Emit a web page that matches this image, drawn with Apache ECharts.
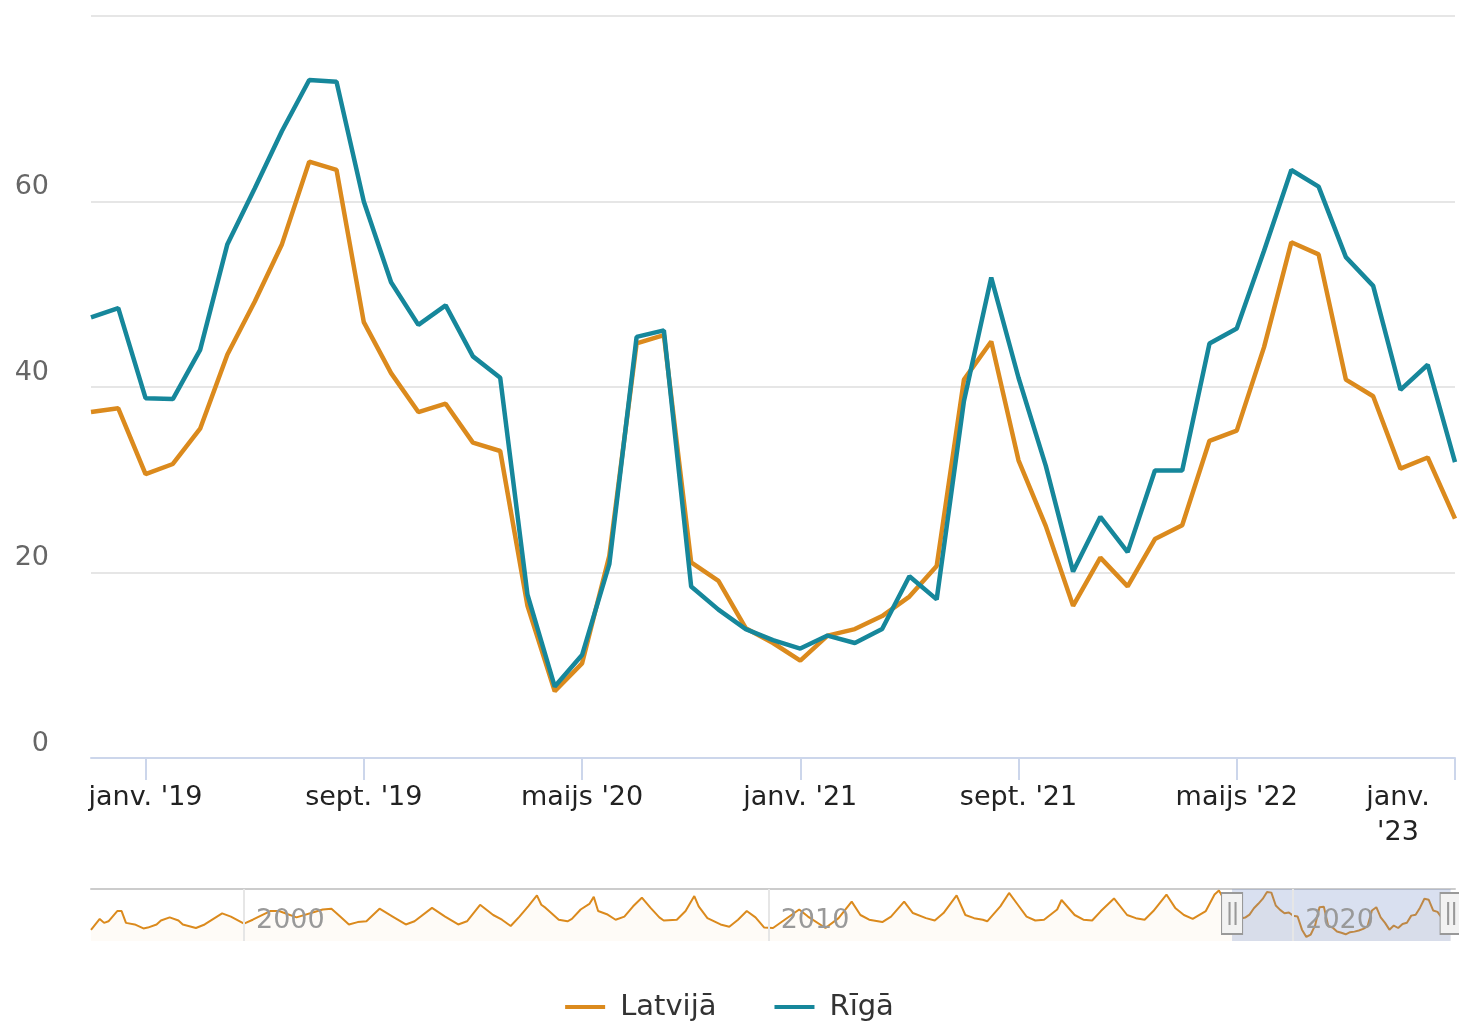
<!DOCTYPE html>
<html>
<head>
<meta charset="utf-8">
<script src="https://cdn.jsdelivr.net/npm/echarts@6/dist/echarts.min.js"></script>
<style>
html,body{margin:0;padding:0;background:#fff;}
#chart{width:1459px;height:1023px;}
</style>
</head>
<body>
<div id="chart"></div>
<script>
// ---------- DATA ----------
const months = [
  '2018-11','2018-12',
  '2019-01','2019-02','2019-03','2019-04','2019-05','2019-06','2019-07','2019-08','2019-09','2019-10','2019-11','2019-12',
  '2020-01','2020-02','2020-03','2020-04','2020-05','2020-06','2020-07','2020-08','2020-09','2020-10','2020-11','2020-12',
  '2021-01','2021-02','2021-03','2021-04','2021-05','2021-06','2021-07','2021-08','2021-09','2021-10','2021-11','2021-12',
  '2022-01','2022-02','2022-03','2022-04','2022-05','2022-06','2022-07','2022-08','2022-09','2022-10','2022-11','2022-12',
  '2023-01'
];
const lvMonthNames = ['janv.','febr.','marts','apr.','maijs','jūn.','jūl.','aug.','sept.','okt.','nov.','dec.'];
const seriesNames = ['Latvijā', 'Rīgā'];

const latvija = [
  37.3, 37.7,
  30.6, 31.7, 35.5, 43.5, 49.2, 55.4, 64.3, 63.4, 47.0, 41.5, 37.3, 38.2,
  34.0, 33.1, 16.4, 7.2, 10.2, 21.8, 44.7, 45.6, 21.1, 19.1, 14.0, 12.4,
  10.5, 13.2, 13.9, 15.3, 17.4, 20.7, 40.8, 44.9, 32.1, 25.0, 16.4, 21.6,
  18.5, 23.6, 25.1, 34.2, 35.3, 44.3, 55.6, 54.3, 40.8, 39.0, 31.2, 32.4,
  25.8
];
const riga = [
  47.5, 48.5,
  38.8, 38.7, 44.0, 55.4, 61.4, 67.6, 73.1, 72.9, 60.0, 51.3, 46.7, 48.8,
  43.3, 41.0, 17.6, 7.7, 11.1, 20.9, 45.4, 46.1, 18.5, 16.0, 13.9, 12.7,
  11.8, 13.2, 12.4, 13.9, 19.6, 17.1, 38.5, 51.8, 41.0, 31.5, 20.1, 26.0,
  22.2, 31.0, 31.0, 44.7, 46.3, 54.7, 63.4, 61.6, 54.0, 50.9, 39.7, 42.4,
  31.9
];
// Navigator (Latvijā, earlier history read from the sparkline)
const navHistory = [
  ['1997-02',16],['1997-04',30],['1997-05',25],['1997-06',27],['1997-08',40],['1997-09',40],['1997-10',25],['1997-12',23],
  ['1998-02',18],['1998-03',19],['1998-05',23],['1998-06',28],['1998-08',32],['1998-10',28],['1998-11',23],
  ['1999-02',18.5],['1999-04',23],['1999-06',30],['1999-08',37],['1999-10',33],
  ['2000-01',24],['2000-03',29],['2000-07',40],['2000-09',40],
  ['2001-01',32],['2001-07',42],['2001-09',43],['2001-11',33],
  ['2002-01',23],['2002-03',26],['2002-05',27],['2002-08',43],['2002-11',33],
  ['2003-02',23],['2003-04',27],['2003-08',44],['2003-11',33],
  ['2004-02',23],['2004-04',27],['2004-07',48],['2004-10',35],['2004-12',29],
  ['2005-02',21],['2005-04',33],['2005-06',46],['2005-08',60],['2005-09',48],['2005-10',44],
  ['2006-01',29],['2006-03',27],['2006-04',30],['2006-06',42],['2006-08',49],['2006-09',58],['2006-10',40],['2006-12',36],
  ['2007-02',29],['2007-04',33],['2007-06',46],['2007-08',57],['2007-10',44],['2007-12',32],
  ['2008-01',28],['2008-04',29],['2008-06',40],['2008-08',59],['2008-09',46],['2008-11',31],
  ['2009-02',23],['2009-04',20],['2009-06',29],['2009-08',40],['2009-10',32],['2009-12',19],
  ['2010-02',18.5],['2010-08',42],['2010-10',33],
  ['2011-02',18.5],['2011-05',31],['2011-08',52],['2011-10',35],['2011-12',29],
  ['2012-03',26],['2012-05',33],['2012-08',52],['2012-10',37.5],
  ['2013-01',31],['2013-03',28],['2013-05',37.5],['2013-08',60],['2013-10',35],['2013-12',31],
  ['2014-02',29],['2014-03',27],['2014-06',46],['2014-08',63],['2014-10',48],['2014-12',33],
  ['2015-02',28],['2015-04',29],['2015-07',42],['2015-08',54],['2015-11',35],
  ['2016-01',29],['2016-03',28],['2016-05',40],['2016-08',56],['2016-11',35],
  ['2017-01',31],['2017-03',29],['2017-05',40],['2017-08',61],['2017-10',44],['2017-12',35],
  ['2018-02',30],['2018-05',40],['2018-07',61],['2018-08',66]
];
const navYearTicks = [2000, 2010, 2020];

// ---------- STYLE ----------
const FONT = 'DejaVu Sans';
const ORANGE = '#DB8A1D';
const TEAL = '#16879B';
const Y_MAX = 80;
const NAV_Y_MIN = 2, NAV_Y_MAX = 68, HANDLE_Y = 37;

const decYear = s => { const p = s.split('-').map(Number); return p[0] + (p[1] - 1) / 12; };
const navData = navHistory.map(d => [decYear(d[0]), d[1]])
  .concat(months.map((m, i) => [decYear(m), latvija[i]]));
const navMin = decYear(navHistory[0][0]);
const navMax = decYear(months[months.length - 1]) + 1 / 12;
const selStart = decYear(months[0]);
const selEnd = decYear(months[months.length - 1]);

const tickFn = (i) => (i - 2) % 8 === 0;
const fmtMonth = (value, index) => {
  const p = value.split('-');
  const name = lvMonthNames[Number(p[1]) - 1];
  const yy = "'" + p[0].slice(2);
  if (index === months.length - 1) return '{e|' + name + '}\n{e|' + yy + '}';
  return name + ' ' + yy;
};

const chart = echarts.init(document.getElementById('chart'), null, {renderer: 'canvas'});
chart.setOption({
  animation: false,
  backgroundColor: '#ffffff',
  textStyle: {fontFamily: FONT},
  grid: [
    {left: 91, right: 4, top: 16, bottom: 265, outerBoundsMode: 'none', containLabel: false},
    {left: 91, right: 4, top: 889, height: 52, outerBoundsMode: 'none', containLabel: false}
  ],
  legend: {
    data: seriesNames,
    top: 987, left: 'center',
    icon: 'rect', itemWidth: 40, itemHeight: 4, itemGap: 58,
    textStyle: {fontSize: 29, color: '#333', fontFamily: FONT, lineHeight: 30, padding: [0, 0, 0, 10]}
  },
  xAxis: [
    {
      gridIndex: 0, type: 'category', data: months, boundaryGap: false,
      axisLine: {lineStyle: {color: '#ccd6eb', width: 2}},
      axisTick: {interval: tickFn, length: 22, lineStyle: {color: '#ccd6eb', width: 2}},
      axisLabel: {
        interval: tickFn, formatter: fmtMonth, color: '#222', fontSize: 27, fontFamily: FONT,
        lineHeight: 35, margin: 22, hideOverlap: false,
        rich: {e: {color: '#222', fontSize: 27, fontFamily: FONT, lineHeight: 35, padding: [0, 114, 0, 0]}}
      },
      splitLine: {show: false}
    },
    {
      gridIndex: 1, type: 'value', min: navMin, max: navMax, z: 10,
      axisLine: {show: false, onZero: false}, axisTick: {show: false}, splitLine: {show: false},
      axisLabel: {
        inside: true, customValues: navYearTicks, align: 'left', verticalAlign: 'middle',
        margin: 20, padding: [0, 0, 0, 12], color: '#999', fontSize: 27, fontFamily: FONT,
        formatter: v => String(v)
      }
    },
    {
      gridIndex: 1, type: 'value', position: 'top', min: navMin, max: navMax,
      axisLine: {show: true, onZero: false, lineStyle: {color: '#cccccc', width: 2}},
      axisTick: {show: false}, axisLabel: {show: false}, splitLine: {show: false}
    }
  ],
  yAxis: [
    {
      gridIndex: 0, type: 'value', min: 0, max: Y_MAX, interval: 20,
      axisLine: {show: false}, axisTick: {show: false},
      splitLine: {lineStyle: {color: '#e6e6e6', width: 2}},
      axisLabel: {
        color: '#666', fontSize: 27, fontFamily: FONT, margin: 42,
        verticalAlign: 'bottom', lineHeight: 23, padding: [0, 0, 3, 0],
        formatter: v => (v >= Y_MAX ? '' : String(v))
      }
    },
    {gridIndex: 1, type: 'value', min: NAV_Y_MIN, max: NAV_Y_MAX, show: false}
  ],
  series: [
    {
      name: seriesNames[0], type: 'line', xAxisIndex: 0, yAxisIndex: 0, data: latvija,
      symbol: 'none', lineStyle: {color: ORANGE, width: 4.5}, itemStyle: {color: ORANGE}, z: 2
    },
    {
      name: seriesNames[1], type: 'line', xAxisIndex: 0, yAxisIndex: 0, data: riga,
      symbol: 'none', lineStyle: {color: TEAL, width: 4.5}, itemStyle: {color: TEAL}, z: 3
    },
    {
      name: 'navigator', type: 'line', xAxisIndex: 1, yAxisIndex: 1, data: navData,
      symbol: 'none', silent: true,
      lineStyle: {color: ORANGE, width: 2}, itemStyle: {color: ORANGE},
      areaStyle: {color: 'rgba(219,138,29,0.05)'},
      markLine: {
        silent: true, symbol: 'none', label: {show: false},
        lineStyle: {color: '#e6e6e6', width: 2, type: 'solid'},
        data: navYearTicks.map(y => ({xAxis: y}))
      },
      z: 2
    },
    {
      name: 'selection', type: 'line', xAxisIndex: 1, yAxisIndex: 1,
      data: [[selStart, NAV_Y_MAX], [selEnd, NAV_Y_MAX]],
      symbol: 'none', silent: true,
      lineStyle: {width: 0},
      areaStyle: {color: 'rgba(102,133,194,0.36)', origin: 'start'},
      markPoint: {
        silent: true,
        symbol: 'path://M0,0H21V41H0Z M7.5,10V31H8.5V10Z M13.5,10V31H14.5V10Z',
        symbolSize: [21, 41],
        itemStyle: {color: '#f2f2f2', borderColor: '#999', borderWidth: 1.5},
        label: {show: false},
        data: [{coord: [selStart, HANDLE_Y]}, {coord: [selEnd, HANDLE_Y]}]
      },
      z: 4
    }
  ]
});
</script>
</body>
</html>
